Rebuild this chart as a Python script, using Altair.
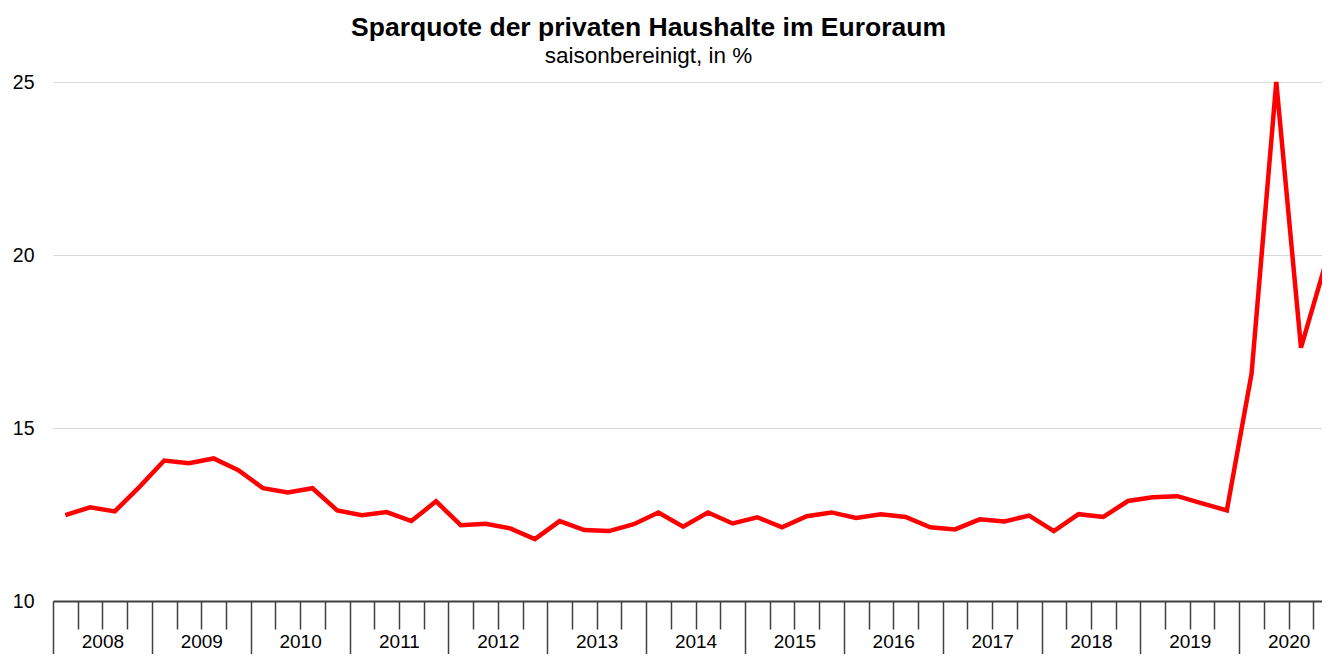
import altair as alt
import pandas as pd

# Quarterly household saving rate, euro area, seasonally adjusted (%)
YEARS = [2008, 2009, 2010, 2011, 2012, 2013, 2014, 2015, 2016, 2017, 2018, 2019, 2020]
QUARTERS = [1, 2, 3, 4]
VALUES = [
    12.48, 12.71, 12.59, 13.30,   # 2008
    14.06, 13.98, 14.12, 13.78,   # 2009
    13.26, 13.14, 13.26, 12.62,   # 2010
    12.48, 12.57, 12.31, 12.88,   # 2011
    12.19, 12.23, 12.10, 11.79,   # 2012
    12.31, 12.05, 12.02, 12.22,   # 2013
    12.56, 12.15, 12.56, 12.24,   # 2014
    12.42, 12.13, 12.45, 12.56,   # 2015
    12.40, 12.51, 12.43, 12.13,   # 2016
    12.07, 12.36, 12.30, 12.47,   # 2017
    12.02, 12.51, 12.43, 12.89,   # 2018
    13.00, 13.03, 12.82, 12.62,   # 2019
    16.57, 25.00, 17.32, 19.77,   # 2020
]
Y_TICKS = [10, 15, 20, 25]

rows = []
k = 0
for y in YEARS:
    for q in QUARTERS:
        rows.append({"year": y, "quarter": q, "idx": (y - YEARS[0]) * 4 + (q - 1) + 0.5,
                     "value": VALUES[k]})
        k += 1
df = pd.DataFrame(rows)

n_q = len(YEARS) * 4
quarter_ticks = [i for i in range(1, n_q) if i % 4 != 0]
year_ticks = [i for i in range(0, n_q + 1, 4)]
bounds_df = pd.DataFrame({"idx": year_ticks, "value": [Y_TICKS[0]] * len(year_ticks)})

FONT = "Liberation Sans"
x_scale = alt.Scale(domain=[0, 51.35], nice=False, zero=False)
y_scale = alt.Scale(domain=[10, 25], nice=False, zero=False)

label_expr = "datum.value % 4 == 2 ? '' + (" + str(YEARS[0]) + " + (datum.value - 2) / 4) : ''"

y_axis = alt.Axis(values=Y_TICKS, domain=False, ticks=False, grid=True,
                  gridColor="#d9d9d9", gridWidth=1, labelFont=FONT, labelFontSize=19.5,
                  labelColor="#000000", labelPadding=19)

line = alt.Chart(df).mark_line(color="#ff0000", strokeWidth=4.5, strokeJoin="miter").encode(
    x=alt.X("idx:Q", scale=x_scale, title=None,
            axis=alt.Axis(orient="bottom", values=quarter_ticks, tickSize=28, tickWidth=1.5,
                          tickColor="#404040", domainColor="#404040", domainWidth=2,
                          grid=False, labelExpr=label_expr, labelFont=FONT, labelFontSize=19,
                          labelColor="#000000", labelPadding=3, labelFlush=False,
                          labelOverlap=False, labelBound=False)),
    y=alt.Y("value:Q", scale=y_scale, title=None, axis=y_axis),
)

years_sep = alt.Chart(bounds_df).mark_point(opacity=0, size=0).encode(
    x=alt.X("idx:Q", scale=x_scale, title=None,
            axis=alt.Axis(orient="bottom", values=year_ticks, tickSize=90, tickWidth=1.5,
                          tickColor="#404040", domain=False, grid=False, labels=False)),
    y=alt.Y("value:Q", scale=y_scale, title=None, axis=y_axis),
)

chart = alt.layer(line, years_sep).resolve_axis(x="independent").resolve_scale(x="shared").properties(
    width=1269,
    height=519,
    padding={"left": 45, "top": 74, "right": 0, "bottom": 53},
    autosize=alt.AutoSizeParams(type="none"),
    background="white",
    title=alt.TitleParams(
        text="Sparquote der privaten Haushalte im Euroraum",
        subtitle="saisonbereinigt, in %",
        font=FONT, fontSize=26.5, fontWeight="bold", color="#000000",
        subtitleFont=FONT, subtitleFontSize=22.5, subtitleColor="#000000",
        subtitlePadding=3, anchor="middle", frame="group", dx=-39, offset=5,
    ),
).configure_view(stroke=None)

chart.save("out.html", embed_options={"renderer": "svg", "actions": False})
